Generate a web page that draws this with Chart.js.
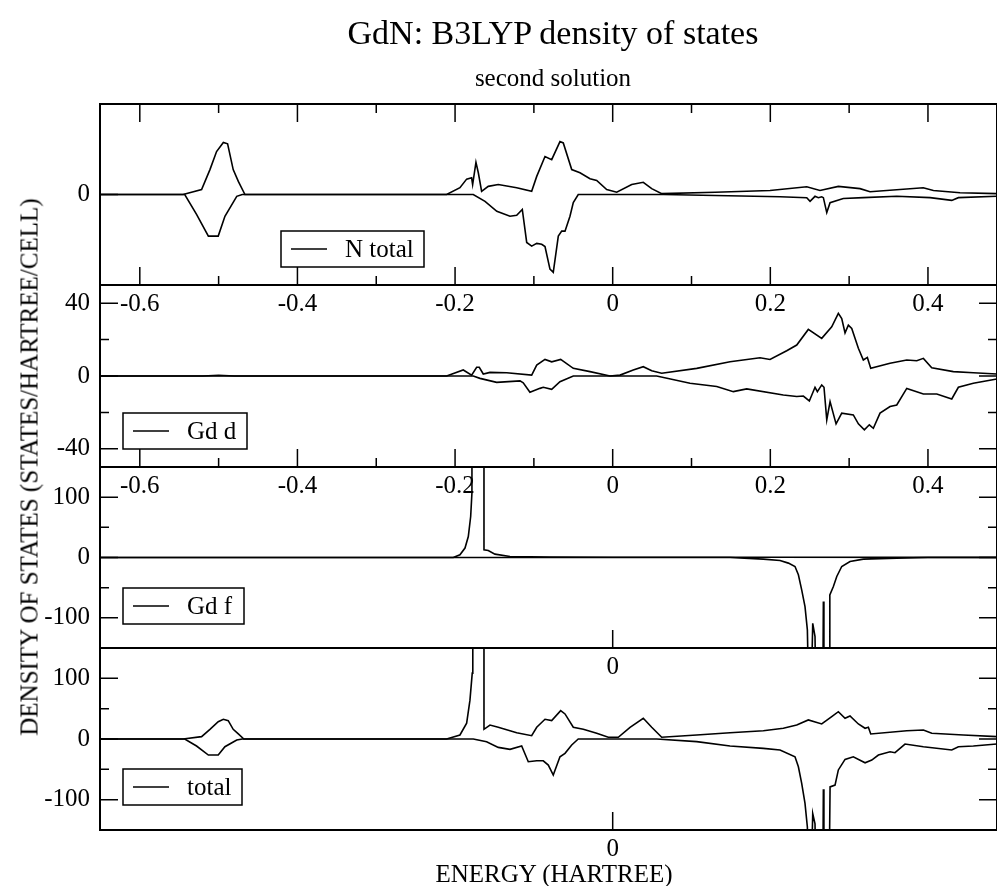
<!DOCTYPE html>
<html>
<head>
<meta charset="utf-8">
<script src="https://cdn.jsdelivr.net/npm/chart.js@4/dist/chart.umd.min.js"></script>
<style>
  body { margin: 0; background: #fff; }
  #wrap { position: relative; width: 997px; height: 886px; overflow: hidden; font-family: "Liberation Serif", serif; }
  #wrap canvas { position: absolute; left: 0; top: 0; }
  .txt { position: absolute; white-space: nowrap; color: #000; line-height: 1; transform: translate(-50%, -50%); }
</style>
</head>
<body>
<div id="wrap">
  <canvas id="p1" width="997" height="886"></canvas>
  <canvas id="p2" width="997" height="886"></canvas>
  <canvas id="p3" width="997" height="886"></canvas>
  <canvas id="p4" width="997" height="886"></canvas>
  <div class="txt" style="left:553px; top:33px; font-size:34px">GdN: B3LYP density of states</div>
  <div class="txt" style="left:553px; top:77px; font-size:25px">second solution</div>
  <div class="txt" style="left:554px; top:873px; font-size:25px">ENERGY (HARTREE)</div>
  <div class="txt" style="left:29px; top:467px; font-size:25px; transform:translate(-50%,-50%) rotate(-90deg)">DENSITY OF STATES (STATES/HARTREE/CELL)</div>
</div>
<script>
// energy axis (hartree)
const xMin = -0.6505, xMax = 0.4876;
const xMajor = [-0.6, -0.4, -0.2, 0, 0.2, 0.4];
const xMinor = [-0.5, -0.3, -0.1, 0.1, 0.3];

// N total, [energy, dos]
const nTotalUp = [[-0.65,0],[-0.545,0],[-0.5216,1.1],[-0.511,5.5],[-0.5026,9.5],[-0.494,11.5],[-0.4886,11.2],[-0.4815,5.5],[-0.475,2.9],[-0.4666,0],
  [-0.2107,0],[-0.1938,1.5],[-0.1853,3.4],[-0.179,3.7],[-0.1777,2.2],[-0.1735,7.1],[-0.1705,4.8],[-0.1663,0.7],[-0.1579,1.8],[-0.1452,2.2],[-0.1218,1.5],
  [-0.1028,0.7],[-0.0964,4.0],[-0.0859,8.4],[-0.0774,7.7],[-0.0669,11.7],[-0.0627,11.4],[-0.052,5.5],[-0.0415,4.8],[-0.0288,3.5],[-0.0203,3.1],
  [-0.0076,1.1],[0.0051,0.5],[0.0241,2.2],[0.0388,2.7],[0.0495,1.3],[0.0622,0.2],[0.13,0.5],[0.1996,0.9],[0.2462,1.7],[0.263,0.9],[0.2863,1.8],
  [0.3138,1.3],[0.3265,0.6],[0.394,1.5],[0.4069,0.9],[0.4407,0.4],[0.4873,0.2]];
const nTotalDown = [[-0.65,0],[-0.543,0],[-0.528,-4.4],[-0.513,-9.2],[-0.5005,-9.2],[-0.492,-4.8],[-0.477,-0.4],[-0.47,0],
  [-0.1769,0],[-0.162,-1.5],[-0.147,-3.7],[-0.1303,-4.8],[-0.1218,-4.6],[-0.1147,-3.3],[-0.1091,-10.6],[-0.1028,-11.4],[-0.0964,-10.8],
  [-0.0901,-11.0],[-0.0859,-11.5],[-0.0796,-16.5],[-0.0754,-17.2],[-0.069,-9.2],[-0.0647,-8.1],[-0.0605,-8.1],[-0.0542,-4.8],[-0.05,-1.8],
  [-0.0437,0],[0.0642,0],[0.2123,-0.5],[0.2462,-0.7],[0.2504,-1.5],[0.2567,-0.4],[0.2609,-0.7],[0.2652,-0.5],[0.2673,-0.7],[0.2716,-4.0],
  [0.2758,-1.8],[0.2926,-0.9],[0.318,-0.7],[0.3604,-0.4],[0.4027,-0.7],[0.4302,-1.3],[0.4386,-0.7],[0.4873,-0.4]];

// Gd d
const gdDUp = [[-0.65,0],[-0.52,0],[-0.5,0.4],[-0.48,0],[-0.2107,0],[-0.1896,3.3],[-0.179,0.5],[-0.1726,4.8],[-0.1693,4.8],[-0.1642,1.1],
  [-0.1557,2.0],[-0.1345,1.8],[-0.1028,0.5],[-0.0964,6.0],[-0.0859,9.1],[-0.0774,7.8],[-0.066,9.1],[-0.05,4.2],[-0.0288,2.4],[-0.0034,0],
  [0.0093,0.5],[0.0261,3.3],[0.0388,5.1],[0.0495,2.9],[0.0622,1.5],[0.1066,4.2],[0.1489,7.8],[0.1869,10.0],[0.1996,9.1],[0.2208,13.9],
  [0.2335,17.0],[0.2482,25.6],[0.2652,20.7],[0.2779,27.0],[0.2863,34.4],[0.2906,31.6],[0.2948,23.7],[0.299,27.9],[0.3033,26.1],[0.3117,15.2],
  [0.318,8.8],[0.3231,10.2],[0.3274,4.2],[0.3519,7.0],[0.3731,8.8],[0.3858,8.4],[0.3942,9.7],[0.4048,4.5],[0.4322,2.4],[0.4576,1.8],[0.4873,1.1]];
const gdDDown = [[-0.65,0],[-0.1769,0],[-0.1684,-1.3],[-0.1472,-3.5],[-0.1176,-2.7],[-0.1135,-3.7],[-0.105,-8.9],[-0.0923,-6.8],[-0.0881,-6.2],
  [-0.0774,-7.3],[-0.0669,-3.1],[-0.05,0],[0.0558,0],[0.0981,-4.0],[0.132,-5.8],[0.1531,-8.6],[0.17,-7.1],[0.2165,-10.4],[0.2335,-11.3],
  [0.2419,-11.0],[0.2495,-13.7],[0.2567,-6.2],[0.2597,-8.6],[0.2652,-4.9],[0.2681,-6.2],[0.2716,-24.1],[0.2758,-14.1],[0.2834,-26.3],
  [0.2906,-20.4],[0.3053,-21.4],[0.3117,-26.3],[0.3193,-29.6],[0.3256,-26.8],[0.3307,-28.7],[0.3392,-20.4],[0.3519,-16.8],[0.3604,-15.9],
  [0.3731,-6.8],[0.3942,-9.9],[0.4112,-9.9],[0.4302,-12.6],[0.4386,-6.2],[0.4576,-4.0],[0.4873,-1.6]];

// Gd f
const gdFUp = [[-0.65,0],[-0.2023,0],[-0.1938,4.5],[-0.1874,15.6],[-0.1832,34.8],[-0.1802,68],[-0.1786,107],[-0.1775,1500],[-0.1637,1500],
  [-0.1633,12.8],[-0.1579,11.6],[-0.1494,5.6],[-0.1303,1.7],[-0.0796,0.7],[0.0,0.4],[0.2,0.3],[0.4873,0.2]];
const gdFDown = [[-0.65,0],[0.149,0],[0.1911,-2.7],[0.2123,-5.0],[0.2229,-9.3],[0.2313,-14.9],[0.2356,-28.7],[0.2398,-53.6],[0.244,-81.3],
  [0.247,-120],[0.249,-250],[0.2515,-250],[0.2538,-109],[0.2567,-131],[0.258,-250],[0.2665,-250],[0.2673,-73],[0.268,-250],[0.2745,-250],
  [0.2755,-62],[0.28,-48],[0.2843,-31.5],[0.2906,-14.9],[0.3011,-6.6],[0.318,-2.7],[0.3604,-1.0],[0.4,0],[0.4873,0]];

// total
const totalUp = [[-0.65,0],[-0.545,0],[-0.5216,3.9],[-0.511,16],[-0.5005,28.6],[-0.494,32.5],[-0.4878,30.3],[-0.4815,16],[-0.475,8.3],[-0.468,0],
  [-0.2107,0],[-0.1938,6.6],[-0.1853,26],[-0.1811,64],[-0.1782,108.6],[-0.1775,1500],[-0.1637,1500],[-0.1633,16],[-0.1557,23],[-0.1452,19.3],
  [-0.1218,10.4],[-0.1028,5.5],[-0.0964,19.3],[-0.0859,32.5],[-0.0774,30.3],[-0.066,46.8],[-0.0605,41.3],[-0.05,19.3],[-0.0373,16],[-0.0203,9.4],
  [-0.0056,2.8],[0.0071,2.8],[0.022,19.3],[0.0388,34.2],[0.0495,19.3],[0.0622,2.8],[0.1066,6.6],[0.1489,10.4],[0.1911,13.7],[0.2165,17.7],
  [0.2335,23],[0.2482,31.4],[0.2652,24.8],[0.2779,36.9],[0.2863,45],[0.2948,34.2],[0.3011,38],[0.3117,24.8],[0.3202,17.7],[0.3244,19.3],
  [0.3274,8.3],[0.3731,13.7],[0.3942,14.9],[0.4048,9.4],[0.4449,6.6],[0.4873,3.9]];
const totalDown = [[-0.65,0],[-0.543,0],[-0.528,-11.6],[-0.513,-26.4],[-0.5005,-26.4],[-0.492,-12.7],[-0.477,-1.7],[-0.47,0],
  [-0.1769,0],[-0.16,-4.4],[-0.1452,-13.8],[-0.1303,-17],[-0.1155,-11.6],[-0.1071,-37.5],[-0.0964,-35.9],[-0.0881,-35.9],[-0.0817,-43],
  [-0.0754,-59.5],[-0.0669,-29.3],[-0.0605,-23.6],[-0.052,-9.9],[-0.0437,0],[0.0558,0],[0.1066,-4.4],[0.1489,-11.6],[0.1911,-15.4],
  [0.2123,-18.2],[0.2313,-29.3],[0.2356,-45.8],[0.2398,-73.2],[0.244,-106],[0.247,-145],[0.249,-250],[0.2515,-250],[0.2538,-123],
  [0.2567,-140],[0.258,-250],[0.2665,-250],[0.2673,-83],[0.268,-250],[0.2745,-250],[0.2758,-79],[0.2821,-76],[0.2863,-51],[0.2948,-33.6],
  [0.3053,-29.3],[0.3202,-39.2],[0.3287,-34.7],[0.3371,-26.4],[0.3519,-21],[0.3582,-22.6],[0.3709,-8.3],[0.3942,-12.7],[0.4302,-18.2],
  [0.4386,-12.7],[0.4576,-11.6],[0.4873,-8.3]];

const FONT = '"Liberation Serif", serif';

// box frame + inward ticks, xmgrace style
const frameTicks = {
  id: 'frameTicks',
  afterDatasetsDraw(chart, args, o) {
    const { ctx, chartArea: a, scales: { x, y } } = chart;
    ctx.save();
    ctx.strokeStyle = '#000';
    ctx.lineWidth = 1.5;
    ctx.beginPath();
    const seg = (x1, y1, x2, y2) => { ctx.moveTo(x1, y1); ctx.lineTo(x2, y2); };
    [[o.xMajor, 18], [o.xMinor, 9]].forEach(([vals, len]) => vals.forEach(v => {
      const px = x.getPixelForValue(v);
      if (o.xTop) seg(px, a.top, px, a.top + len);
      if (o.xBottom) seg(px, a.bottom, px, a.bottom - len);
    }));
    [[o.yMajor, 18], [o.yMinor, 9]].forEach(([vals, len]) => vals.forEach(v => {
      const py = y.getPixelForValue(v);
      seg(a.left, py, a.left + len, py);
      if (o.yRight) seg(a.right, py, a.right - len, py);
    }));
    ctx.stroke();
    ctx.lineWidth = 2;
    ctx.strokeRect(a.left, a.top, a.width, a.height);
    ctx.restore();
  }
};

const boxLegend = {
  id: 'boxLegend',
  afterDraw(chart, args, o) {
    const { ctx, chartArea: a } = chart;
    const bx = a.left + o.dx, by = a.top + o.dy, h = 36;
    ctx.save();
    ctx.fillStyle = '#fff';
    ctx.fillRect(bx, by, o.w, h);
    ctx.strokeStyle = '#000';
    ctx.lineWidth = 1.5;
    ctx.strokeRect(bx, by, o.w, h);
    ctx.beginPath();
    ctx.moveTo(bx + 10, by + h / 2);
    ctx.lineTo(bx + 46, by + h / 2);
    ctx.stroke();
    ctx.fillStyle = '#000';
    ctx.font = '25px ' + FONT;
    ctx.textBaseline = 'middle';
    ctx.fillText(chart.data.datasets[0].label, bx + 64, by + h / 2 + 1);
    ctx.restore();
  }
};

function makePanel(id, p) {
  return new Chart(document.getElementById(id), {
    type: 'line',
    data: {
      datasets: [p.up, p.down].map(s => ({
        label: p.label,
        data: s.map(d => ({ x: d[0], y: d[1] })),
        borderColor: '#000',
        borderWidth: 1.6,
        pointRadius: 0,
        tension: 0,
        fill: false
      }))
    },
    options: {
      responsive: false,
      animation: false,
      events: [],
      layout: { padding: { top: p.top, bottom: 886 - p.bottom - 30, left: 0, right: 0 } },
      scales: {
        x: {
          type: 'linear', min: xMin, max: xMax,
          afterFit: s => { s.height = 30; },
          afterBuildTicks: s => { s.ticks = p.xLabels.map(v => ({ value: v })); },
          ticks: { callback: v => String(v), color: '#000', font: { family: FONT, size: 25 }, padding: 4, maxRotation: 0, autoSkip: false },
          grid: { display: false, drawTicks: false },
          border: { display: false }
        },
        y: {
          min: -p.yMax, max: p.yMax,
          afterFit: s => { s.width = 100; },
          afterBuildTicks: s => { s.ticks = p.yLabels.map(v => ({ value: v })); },
          ticks: { callback: v => String(v), color: '#000', font: { family: FONT, size: 25 }, padding: 10, autoSkip: false },
          grid: { display: false, drawTicks: false },
          border: { display: false }
        }
      },
      plugins: {
        legend: { display: false },
        tooltip: { enabled: false },
        frameTicks: p.ticks,
        boxLegend: p.legend
      }
    },
    plugins: [frameTicks, boxLegend]
  });
}

makePanel('p1', {
  label: 'N total', up: nTotalUp, down: nTotalDown, top: 104, bottom: 285, yMax: 20,
  xLabels: xMajor, yLabels: [0],
  ticks: { xMajor, xMinor, xTop: true, xBottom: true, yMajor: [0], yMinor: [], yRight: false },
  legend: { dx: 181, dy: 127, w: 143 }
});
makePanel('p2', {
  label: 'Gd d', up: gdDUp, down: gdDDown, top: 285, bottom: 467, yMax: 50,
  xLabels: xMajor, yLabels: [40, 0, -40],
  ticks: { xMajor, xMinor, xTop: false, xBottom: true, yMajor: [40, 0, -40], yMinor: [20, -20], yRight: true },
  legend: { dx: 23, dy: 128, w: 124 }
});
makePanel('p3', {
  label: 'Gd f', up: gdFUp, down: gdFDown, top: 467, bottom: 648, yMax: 150,
  xLabels: [0], yLabels: [100, 0, -100],
  ticks: { xMajor: [0], xMinor: [], xTop: false, xBottom: true, yMajor: [100, 0, -100], yMinor: [50, -50], yRight: true },
  legend: { dx: 23, dy: 121, w: 121 }
});
makePanel('p4', {
  label: 'total', up: totalUp, down: totalDown, top: 648, bottom: 830, yMax: 150,
  xLabels: [0], yLabels: [100, 0, -100],
  ticks: { xMajor: [0], xMinor: [], xTop: false, xBottom: true, yMajor: [100, 0, -100], yMinor: [50, -50], yRight: true },
  legend: { dx: 23, dy: 121, w: 119 }
});
</script>
</body>
</html>
